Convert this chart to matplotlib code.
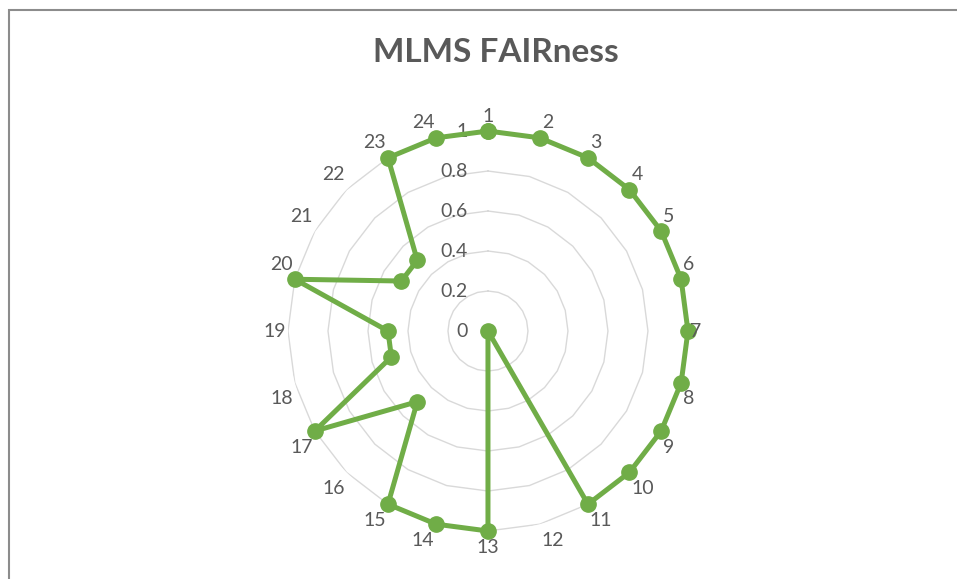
import numpy as np
import matplotlib
matplotlib.use("Agg")
import matplotlib.pyplot as plt
from matplotlib.transforms import offset_copy

# categories and values
categories = [str(i) for i in range(1, 25)]
values = [1, 1, 1, 1, 1, 1, 1, 1, 1, 1, 1, 0,
          1, 1, 1, 0.5, 1, 0.5, 0.5, 1, 0.5, 0.5, 1, 1]
rings = [0.2, 0.4, 0.6, 0.8, 1.0]
ring_labels = ["0", "0.2", "0.4", "0.6", "0.8", "1"]

green = "#70AD47"
txt = "#595959"
grid_c = "#D9D9D9"

plt.rcParams['font.family'] = ['Lato', 'DejaVu Sans']

fig = plt.figure(figsize=(9.57, 5.79), dpi=100)
ax = fig.add_axes([0.3009, 0.0829, 0.418, 0.6908], projection='polar')
ax.set_theta_zero_location('N')
ax.set_theta_direction(-1)
ax.set_ylim(0, 1)
ax.grid(False)
ax.set_xticks([]); ax.set_yticks([])
ax.spines['polar'].set_visible(False)
ax.patch.set_alpha(0)

n = len(categories)
theta = np.arange(n) * 2 * np.pi / n
theta_c = np.append(theta, theta[0])

# polygon gridlines
for r in rings:
    ax.plot(theta_c, [r] * (n + 1), color=grid_c, lw=1.0, zorder=1)

# data line
vals_c = values + values[:1]
ax.plot(theta_c, vals_c, color=green, lw=3.6, marker='o', ms=11,
        solid_joinstyle='round', zorder=3, clip_on=False)

# radial labels on the vertical axis
tr = offset_copy(ax.transData, fig=fig, x=-20, y=0, units='dots')
for r, lab in zip([0] + rings, ring_labels):
    ax.text(0, r, lab, transform=tr, ha='right', va='center',
            fontsize=14, color=txt, zorder=2)

# category labels, excel style: sit beside the outer ring vertex
for t, lab in zip(theta, categories):
    s, c = np.sin(t), np.cos(t)
    if s > 0.05:
        ha, dx = 'left', 2
    elif s < -0.05:
        ha, dx = 'right', -2
    else:
        ha, dx = 'center', 0
    if c > 0.05:
        dy = 15
    elif c < -0.05:
        dy = -16
    else:
        dy = 0
    trl = offset_copy(ax.transData, fig=fig, x=dx, y=dy, units='dots')
    ax.text(t, 1.0, lab, transform=trl, ha=ha, va='center', fontsize=14,
            color=txt, clip_on=False, zorder=4)

fig.text(0.5178, 0.8929, "MLMS FAIRness", ha='center', va='baseline',
         fontsize=24, fontweight='bold', color=txt)

# chart area border
fig.add_artist(plt.Rectangle((8.5 / 957, -0.05), 1.0, 1.05 - 9.5 / 579,
                             transform=fig.transFigure, fill=False,
                             edgecolor='#8C8C8C', lw=1.5))

fig.savefig("out.png", dpi=100)
